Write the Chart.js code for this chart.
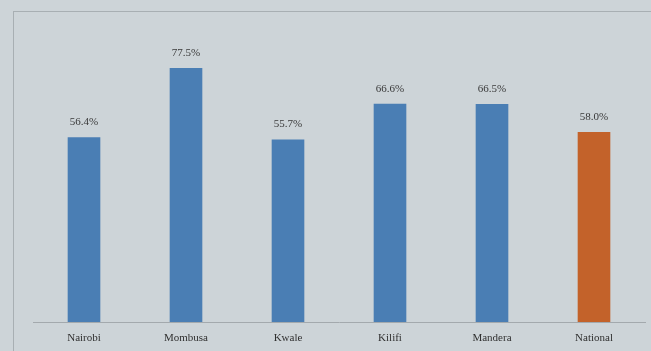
<!DOCTYPE html>
<html><head><meta charset="utf-8">
<script src="https://cdn.jsdelivr.net/npm/chart.js@4/dist/chart.umd.min.js"></script>
<style>html,body{margin:0;padding:0;background:#cdd4d8;}#w{width:651px;height:351px;}</style>
</head><body><div id="w"><canvas id="c" width="651" height="351"></canvas></div>
<script>
const categories = ["Nairobi","Mombusa","Kwale","Kilifi","Mandera","National"];
const values = [56.4, 77.5, 55.7, 66.6, 66.5, 58.0];
const barColors = ["#4a7eb4","#4a7eb4","#4a7eb4","#4a7eb4","#4a7eb4","#c3622a"];

const bg = {
  id:'bg',
  beforeDraw(chart){
    const ctx = chart.ctx;
    ctx.save();
    ctx.fillStyle = '#cdd4d8';
    ctx.fillRect(0,0,chart.width,chart.height);
    ctx.strokeStyle = '#a8afb3';
    ctx.lineWidth = 1;
    ctx.strokeRect(13.5, 11.5, chart.width + 20, chart.height + 20);
    ctx.restore();
  }
};
const labels = {
  id:'labels',
  afterDatasetsDraw(chart){
    const ctx = chart.ctx;
    const meta = chart.getDatasetMeta(0);
    ctx.save();
    ctx.font = '11px "Liberation Serif", "DejaVu Serif", serif';
    ctx.fillStyle = '#383838';
    ctx.textAlign = 'center';
    ctx.textBaseline = 'middle';
    meta.data.forEach((b,i)=>{
      ctx.fillText(values[i].toFixed(1) + '%', b.x, b.y - 15);
    });
    ctx.restore();
  }
};
new Chart(document.getElementById('c'), {
  type:'bar',
  data:{labels:categories, datasets:[{data:values, backgroundColor:barColors, barPercentage:0.32, categoryPercentage:1}]},
  options:{
    responsive:false, animation:false,
    layout:{padding:{left:33,right:6,top:27,bottom:0}},
    plugins:{legend:{display:false}, tooltip:{enabled:false}},
    scales:{
      x:{
        grid:{display:false},
        border:{display:true,color:'#a3a9ad',width:1},
        ticks:{color:'#303030', padding:2, font:{family:'"Liberation Serif", "DejaVu Serif", serif', size:11}},
        afterFit(s){ s.height = 29; }
      },
      y:{display:false, min:0, max:90}
    }
  },
  plugins:[bg, labels]
});
</script></body></html>
